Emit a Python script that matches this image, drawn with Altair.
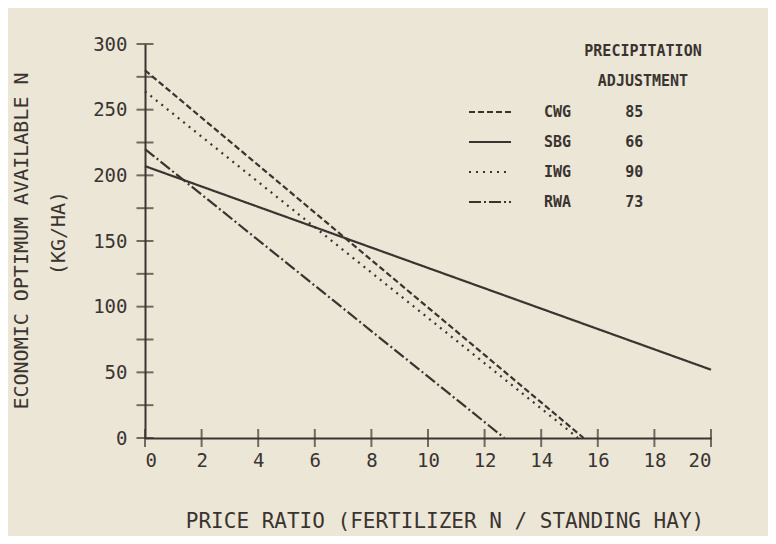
import altair as alt
import pandas as pd

# ---- data ----
series = ["CWG", "SBG", "IWG", "RWA"]
adjustment = [85, 66, 90, 73]
x_start = [0, 0, 0, 0]
y_start = [280, 207, 264, 220]
x_end = [15.5, 20, 15.3, 12.7]
y_end = [0, 52, 0, 0]
dashes = [[6, 3], [1, 0], [2, 5], [12, 3, 2, 3]]

x_tick_values = [0, 2, 4, 6, 8, 10, 12, 14, 16, 18, 20]
y_tick_values = [0, 25, 50, 75, 100, 125, 150, 175, 200, 225, 250, 275, 300]
y_label_values = [0, 50, 100, 150, 200, 250, 300]

x_title = "PRICE RATIO  (FERTILIZER N / STANDING HAY)"
y_title_1 = "ECONOMIC OPTIMUM AVAILABLE N"
y_title_2 = "(KG/HA)"
legend_title = ["PRECIPITATION", "ADJUSTMENT"]

INK = "#3a3431"
BG = "#ece6d7"
FONT = "DejaVu Sans Mono"

labels = [f"{s}" + "\u00a0" * 6 + f"{a}" for s, a in zip(series, adjustment)]

rows = []
for lab, xs, ys, xe, ye in zip(labels, x_start, y_start, x_end, y_end):
    rows.append({"series": lab, "x": xs, "y": ys})
    rows.append({"series": lab, "x": xe, "y": ye})
lines_df = pd.DataFrame(rows)

W, H = 566, 394

xscale = alt.Scale(domain=[0, 20], nice=False, zero=False)
yscale = alt.Scale(domain=[0, 300], nice=False, zero=False)

lines = alt.Chart(lines_df).mark_line(strokeWidth=2.2, color=INK, clip=False).encode(
    x=alt.X("x:Q", scale=xscale,
            axis=alt.Axis(values=x_tick_values, title=None, ticks=False, grid=False,
                          domainColor=INK, domainWidth=2, labelFont=FONT,
                          labelFontSize=19, labelColor=INK, labelPadding=13)),
    y=alt.Y("y:Q", scale=yscale,
            axis=alt.Axis(values=y_label_values, title=None, ticks=False, grid=False,
                          domainColor=INK, domainWidth=2, labelFont=FONT,
                          labelFontSize=19, labelColor=INK, labelPadding=18)),
    strokeDash=alt.StrokeDash(
        "series:N",
        scale=alt.Scale(domain=labels, range=dashes),
        sort=labels,
        legend=alt.Legend(
            orient="none", legendX=323, legendY=0,
            title=legend_title, titleFont=FONT, titleFontSize=15,
            titleFontWeight="bold", titleColor=INK, titleLineHeight=30,
            titleAnchor="end", titleAlign="center", titlePadding=1,
            symbolType="stroke", symbolSize=1764, symbolStrokeWidth=2,
            symbolStrokeColor=INK, labelFont=FONT, labelFontSize=15,
            labelFontWeight="bold", labelColor=INK, labelOffset=32,
            rowPadding=-12, labelLimit=400, padding=0,
        ),
    ),
    detail="series:N",
)

ytick_df = pd.DataFrame({"v": y_tick_values})
xtick_df = pd.DataFrame({"v": x_tick_values})

yticks = alt.Chart(ytick_df).mark_tick(orient="horizontal", color=INK, thickness=2, size=17).encode(
    y=alt.Y("v:Q", scale=yscale), x=alt.X(datum=0, scale=xscale)
)
xticks = alt.Chart(xtick_df).mark_tick(orient="vertical", color=INK, thickness=2, size=18).encode(
    x=alt.X("v:Q", scale=xscale), y=alt.Y(datum=0, scale=yscale)
)

xt = alt.Chart(pd.DataFrame({"t": [x_title]})).mark_text(
    font=FONT, fontSize=21, color=INK, align="center", baseline="middle").encode(
    text="t:N", x=alt.value(300), y=alt.value(478))
yt1 = alt.Chart(pd.DataFrame({"t": [y_title_1]})).mark_text(
    font=FONT, fontSize=20, color=INK, align="center", baseline="middle", angle=270).encode(
    text="t:N", x=alt.value(-123), y=alt.value(197))
yt2 = alt.Chart(pd.DataFrame({"t": [y_title_2]})).mark_text(
    font=FONT, fontSize=20, color=INK, align="center", baseline="middle", angle=270).encode(
    text="t:N", x=alt.value(-86), y=alt.value(189))

chart = alt.layer(lines, yticks, xticks, xt, yt1, yt2).properties(
    width=W, height=H,
    autosize=alt.AutoSizeParams(type="none"),
    padding={"left": 137, "top": 36, "right": 57, "bottom": 98},
    background=BG,
).configure_view(stroke=None)

chart.save("out.html", embed_options={"renderer": "svg", "actions": False})
